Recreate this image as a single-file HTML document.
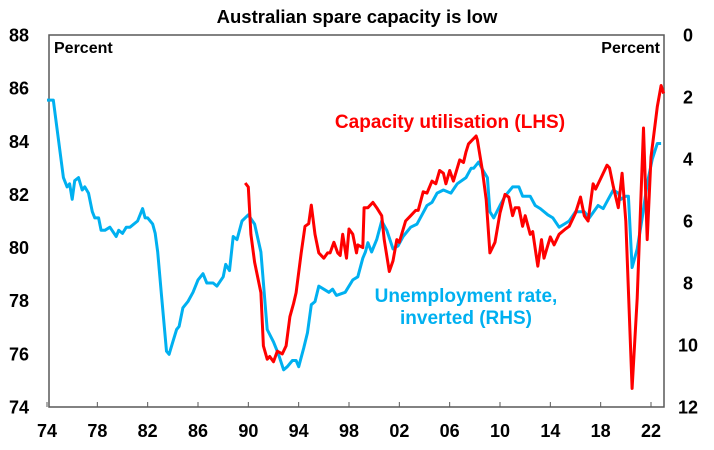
<!DOCTYPE html>
<html><head><meta charset="utf-8"><style>
body{margin:0;background:#fff;}
svg text{font-family:"Liberation Sans",Arial,sans-serif;font-weight:bold;}
</style></head><body>
<svg id="chart" width="714" height="445" viewBox="0 0 714 445" xmlns="http://www.w3.org/2000/svg">
<text x="357" y="23" text-anchor="middle" font-size="18.5" fill="#000">Australian spare capacity is low</text>
<text x="54" y="53" font-size="16" fill="#000">Percent</text>
<text x="660" y="53" text-anchor="end" font-size="16" fill="#000">Percent</text>
<g id="axes"></g>
<g id="series"></g>
<text x="450" y="128" text-anchor="middle" font-size="19" fill="#ff0000">Capacity utilisation (LHS)</text>
<text x="466" y="302" text-anchor="middle" font-size="19" fill="#00b0f0">Unemployment rate,</text>
<text x="466" y="324" text-anchor="middle" font-size="19" fill="#00b0f0">inverted (RHS)</text>
</svg>
<script>
const leftTicks=[88,86,84,82,80,78,76,74];
const rightTicks=[0,2,4,6,8,10,12];
const xTickYears=[1974,1978,1982,1986,1990,1994,1998,2002,2006,2010,2014,2018,2022];
const xTickLabels=["74","78","82","86","90","94","98","02","06","10","14","18","22"];
const unempYears=[1974,1974.5,1975.3,1975.6,1975.8,1976,1976.2,1976.5,1976.8,1977,1977.3,1977.6,1977.8,1978.1,1978.3,1978.6,1979,1979.5,1979.7,1980,1980.3,1980.6,1981.2,1981.6,1981.8,1982,1982.4,1982.6,1982.8,1983.1,1983.5,1983.7,1984,1984.3,1984.5,1984.8,1985.2,1985.6,1986,1986.4,1986.7,1987.2,1987.5,1988,1988.2,1988.5,1988.8,1989.1,1989.5,1990,1990.5,1991,1991.5,1992,1992.4,1992.8,1993.1,1993.5,1993.8,1994,1994.4,1994.7,1995,1995.3,1995.6,1996,1996.4,1996.7,1997,1997.7,1998.3,1998.7,1999.1,1999.3,1999.5,1999.8,2000.2,2000.6,2001,2001.5,2001.9,2002.3,2002.9,2003.4,2003.8,2004.2,2004.6,2005,2005.5,2006.1,2006.6,2007.3,2007.7,2007.9,2008.3,2008.7,2009,2009.2,2009.5,2010,2010.4,2011,2011.5,2011.8,2012.4,2012.8,2013.2,2013.8,2014.2,2014.7,2015.1,2015.5,2016,2016.7,2017.1,2017.8,2018.2,2018.6,2019,2019.4,2019.6,2020,2020.2,2020.5,2020.9,2021.3,2021.7,2022.1,2022.5,2022.8];
const unempRate=[2.1,2.1,4.6,4.9,4.8,5.3,4.7,4.6,5.0,4.9,5.1,5.7,5.9,5.9,6.3,6.3,6.2,6.5,6.3,6.4,6.2,6.2,6.0,5.6,5.9,5.9,6.1,6.4,7.0,8.4,10.2,10.3,9.9,9.5,9.4,8.8,8.6,8.3,7.9,7.7,8.0,8.0,8.1,7.8,7.4,7.6,6.5,6.6,6.0,5.8,6.1,7.0,9.5,9.9,10.3,10.8,10.7,10.5,10.5,10.7,10.1,9.6,8.7,8.6,8.1,8.2,8.3,8.2,8.4,8.3,7.9,7.8,7.2,7.0,6.7,7.0,6.6,6.0,6.3,6.9,6.8,6.5,6.2,6.1,5.8,5.5,5.4,5.1,5.0,5.1,4.8,4.6,4.3,4.3,4.1,4.4,4.6,5.7,5.9,5.5,5.2,4.9,4.9,5.2,5.2,5.5,5.6,5.8,5.9,6.2,6.1,6.0,5.7,5.7,5.9,5.5,5.6,5.3,5.0,5.1,5.3,5.2,5.2,7.5,6.9,5.9,4.8,4.0,3.5,3.5];
const capYears=[1989.75,1990,1990.2,1990.5,1991,1991.2,1991.5,1991.7,1992,1992.3,1992.7,1993,1993.3,1993.6,1993.8,1994.2,1994.5,1994.8,1995,1995.3,1995.6,1996,1996.3,1996.5,1996.8,1997.1,1997.3,1997.5,1997.8,1998,1998.3,1998.6,1998.7,1999.1,1999.2,1999.5,1999.9,2000.2,2000.6,2000.8,2001.2,2001.5,2001.8,2002,2002.5,2002.9,2003.3,2003.5,2003.9,2004.2,2004.6,2004.9,2005.2,2005.5,2005.7,2006,2006.3,2006.8,2007.1,2007.3,2007.5,2008.1,2008.2,2008.6,2008.9,2009.2,2009.6,2010,2010.4,2010.7,2011,2011.2,2011.5,2011.8,2012,2012.4,2012.6,2013,2013.3,2013.5,2014,2014.3,2014.7,2015.2,2015.5,2016,2016.4,2016.7,2017,2017.4,2017.6,2018,2018.5,2018.7,2019,2019.4,2019.7,2020,2020.5,2020.9,2021.4,2021.7,2022,2022.5,2022.8,2023];
const capValues=[82.43,82.28,80.5,79.45,78.3,76.3,75.8,75.9,75.7,76.1,76.0,76.3,77.4,77.9,78.3,79.8,80.8,80.9,81.6,80.5,79.8,79.6,79.8,79.8,80.2,79.8,79.7,80.5,79.6,80.7,80.5,79.8,80.1,80.0,81.5,81.5,81.7,81.5,81.2,80.3,79.1,79.5,80.3,80.2,81.0,81.2,81.4,81.4,82.1,82.05,82.5,82.4,82.9,82.8,82.4,82.9,82.5,83.3,83.2,83.6,83.9,84.2,84.05,82.9,81.8,79.8,80.2,81.3,82.0,81.9,81.2,81.5,81.5,80.8,81.2,80.5,80.6,79.3,80.3,79.6,80.4,80.1,80.5,80.7,80.8,81.3,81.9,81.2,81.0,82.4,82.2,82.6,83.1,83.0,82.3,81.5,82.8,81.0,74.7,78.1,84.5,80.3,83.4,85.3,86.1,85.8];

const NS="http://www.w3.org/2000/svg";
const X0=49,X1=664,Y0=35,Y1=407;
const xScale=yr=>47+(yr-1974)*(651-47)/48;
const yLeft=v=>Y0+(88-v)*(Y1-Y0)/14;
const yRight=v=>Y0+v*(Y1-Y0)/12;
function mk(tag,attrs,parent){const e=document.createElementNS(NS,tag);for(const k in attrs)e.setAttribute(k,attrs[k]);parent.appendChild(e);return e;}
const axes=document.getElementById('axes');
const series=document.getElementById('series');
let e;
e=mk('rect',{x:X0,y:Y0,width:X1-X0,height:Y1-Y0,fill:'none',stroke:'#595959','stroke-width':1.5},axes);


leftTicks.forEach(v=>{const y=yLeft(v);
 const t=mk('text',{x:29,y:y+6.5,'text-anchor':'end','font-size':18,fill:'#000'},axes);t.textContent=v;
 
 
});
rightTicks.forEach(v=>{const y=yRight(v);
 const t=mk('text',{x:688,y:y+6.5,'text-anchor':'middle','font-size':18,fill:'#000'},axes);t.textContent=v;
 
 
});
xTickYears.forEach((yr,i)=>{const x=xScale(yr);
 const l=mk('line',{x1:x,y1:Y1,x2:x,y2:Y1-5,stroke:'#595959','stroke-width':1},axes);
 
 
 const t=mk('text',{x:x,y:Y1+30,'text-anchor':'middle','font-size':18,fill:'#000'},axes);t.textContent=xTickLabels[i];
 
 
});
const up=unempYears.map((yr,i)=>xScale(yr).toFixed(1)+','+yRight(unempRate[i]).toFixed(1)).join(' ');
e=mk('polyline',{points:up,fill:'none',stroke:'#00b0f0','stroke-width':3,'stroke-linejoin':'round'},series);


const cp=capYears.map((yr,i)=>xScale(yr).toFixed(1)+','+yLeft(capValues[i]).toFixed(1)).join(' ');
e=mk('polyline',{points:cp,fill:'none',stroke:'#ff0000','stroke-width':3,'stroke-linejoin':'round'},series);


</script>
</body></html>
